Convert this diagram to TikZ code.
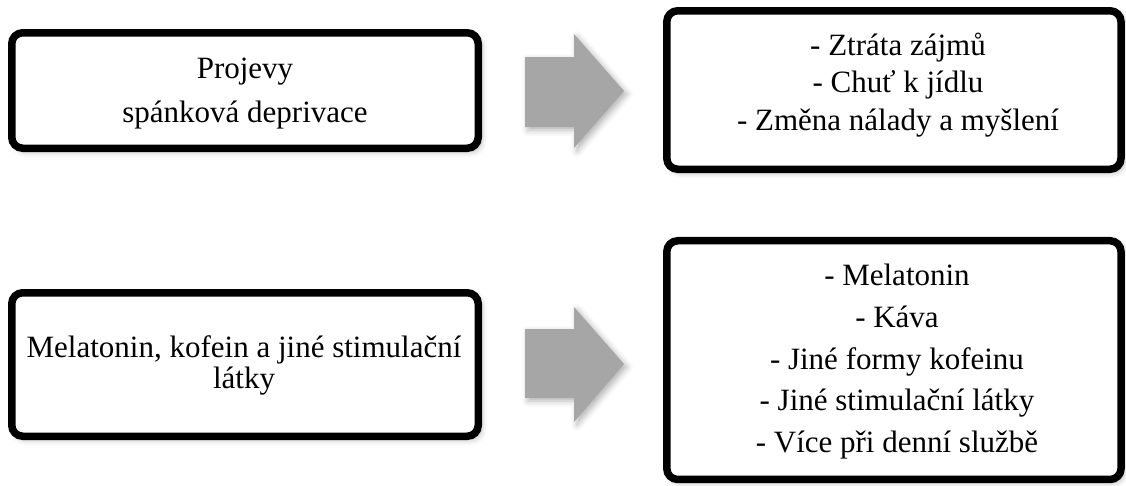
\documentclass[tikz,border=0pt]{standalone}
\usepackage{fontspec}
\setmainfont{Liberation Serif}
\usetikzlibrary{shadows.blur}
\definecolor{arrowgray}{RGB}{166,166,166}
\begin{document}
\begin{tikzpicture}[x=1pt,y=-1pt,
  softshadow/.style={blur shadow={shadow xshift=3pt, shadow yshift=-3pt, shadow blur radius=6pt, shadow opacity=30}},
  box/.style={draw=black, line width=7.5pt, rounded corners=11pt, fill=white,
    inner sep=0pt, outer sep=0pt, softshadow},
  txt/.style={align=center, inner sep=0pt},
  blockarrow/.style={fill=arrowgray, draw=none, softshadow}]
\useasboundingbox (0,0) rectangle (1126,485);

% boxes
\node[box, minimum width=466.5pt, minimum height=115.5pt] (b1) at (245,90.5) {};
\node[box, minimum width=454.25pt, minimum height=158.5pt] (b2) at (893.9,90) {};
\node[box, minimum width=466.5pt, minimum height=143.5pt] (b3) at (245,364.5) {};
\node[box, minimum width=454.25pt, minimum height=238.75pt] (b4) at (893.9,360.1) {};

% texts
\node[txt, font=\fontsize{31}{44}\selectfont] (t1) at (245,93.9)
  {Projevy\\spánková deprivace};
\node[txt, font=\fontsize{31}{37.5}\selectfont] (t2) at (898,85)
  {- Ztráta zájmů\\- Chuť k jídlu\\- Změna nálady a myšlení};
\node[txt, font=\fontsize{31}{31}\selectfont] (t3) at (244,365)
  {Melatonin, kofein a jiné stimulační\\látky};
\node[txt, font=\fontsize{31}{41.75}\selectfont] (t4) at (897,361.6)
  {- Melatonin\\- Káva\\- Jiné formy kofeinu\\- Jiné stimulační látky\\- Více při denní službě};

% block arrows
\fill[blockarrow] (525,57) -- (574,57) -- (574,34) -- (624,91) -- (574,148) -- (574,127) -- (525,127) -- cycle;
\fill[blockarrow] (525,329) -- (574,329) -- (574,307) -- (624,364) -- (574,422) -- (574,398) -- (525,398) -- cycle;
\end{tikzpicture}
\end{document}
